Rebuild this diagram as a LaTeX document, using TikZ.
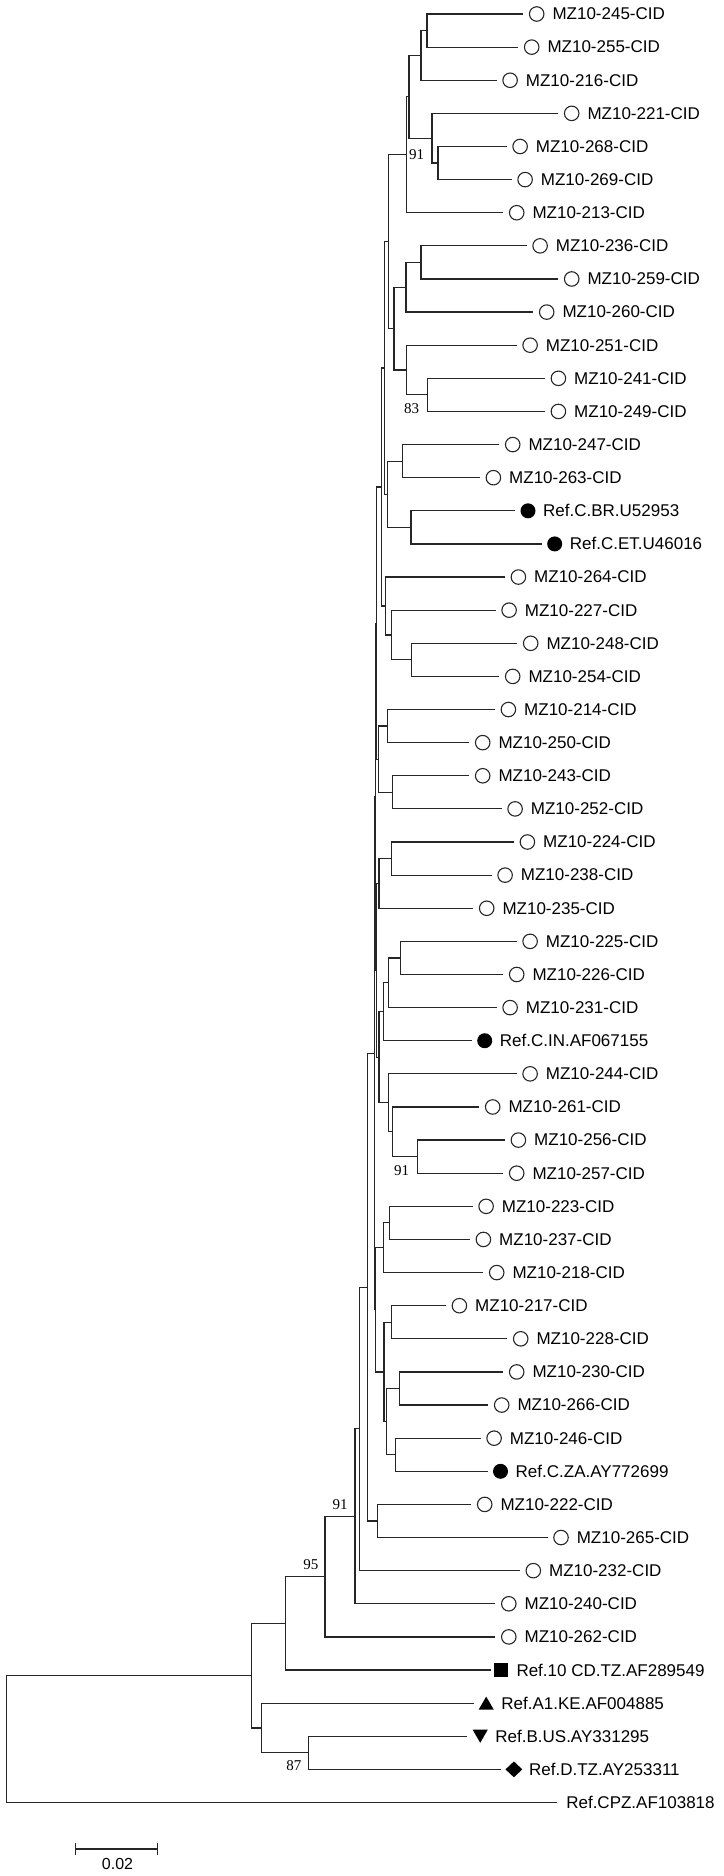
\documentclass[tikz,border=0pt]{standalone}
\usepackage{fontspec}
\setmainfont{Liberation Sans}
\newfontfamily\bsfont{Liberation Serif}
\usetikzlibrary{arrows.meta,calc,shapes.geometric}

\begin{document}
\begin{tikzpicture}[
  x=1pt, y=-1pt,
  br/.style={draw=black!85, line width=1.2pt},
  lab/.style={anchor=west, inner sep=0pt, font=\fontsize{17}{20}\selectfont},
  boot/.style={inner sep=0pt, font=\bsfont\fontsize{15}{18}\selectfont},
  ocirc/.style={circle, draw=black!85, line width=1.1pt, minimum size=14.5pt, inner sep=0pt},
  fcirc/.style={circle, fill=black, minimum size=15pt, inner sep=0pt},
  sqmark/.style={rectangle, fill=black, minimum size=14pt, inner sep=0pt},
  trimark/.style={regular polygon, regular polygon sides=3, fill=black, minimum size=17.5pt, inner sep=0pt},
  upmark/.style={trimark, yshift=-2.2pt},
  dnmark/.style={trimark, shape border rotate=180, yshift=2.2pt},
  dimark/.style={diamond, fill=black, minimum width=17pt, minimum height=16pt, inner sep=0pt}]
\useasboundingbox (0,0) rectangle (723,1876);
% leaves
\foreach \n/\x/\k in {245/523.3/1, 255/518.3/2, 216/496.7/3, 221/558.3/4, 268/506.7/5,
  269/511.7/6, 213/503.3/7, 236/526.7/8, 259/558.3/9, 260/533.3/10, 251/516.7/11,
  241/545/12, 249/545/13, 247/499.3/14, 263/480/15, 264/505/18, 227/495.7/19,
  248/517.3/20, 254/499.3/21, 214/495/22, 250/469.3/23, 243/469.3/24, 252/501.7/25,
  224/514/26, 238/491.7/27, 235/473.3/28, 225/516.7/29, 226/503.3/30, 231/496.7/31,
  244/516.7/33, 261/479.3/34, 256/505/35, 257/503.3/36, 223/472.7/37, 237/470/38,
  218/483.3/39, 217/446/40, 228/507.3/41, 230/503.3/42, 266/488.3/43, 246/480.7/44,
  222/471.3/46, 265/547.6/47, 232/519.9/48, 240/495.4/49, 262/495.4/50}{
  \coordinate (t\n) at (\x,{14+(\k-1)*33.12});
  \node[ocirc] (s\n) at ([xshift=13.4pt]t\n) {};
  \node[lab] (l\n) at ([xshift=29pt]t\n) {MZ10-\n-CID};
}
\foreach \n/\x/\k/\m/\d/\t in {crbr/515/16/fcirc/13/Ref.C.BR.U52953,
  cret/541.7/17/fcirc/13/Ref.C.ET.U46016,
  cin/471.7/32/fcirc/13/Ref.C.IN.AF067155,
  cza/487.5/45/fcirc/13/Ref.C.ZA.AY772699,
  r10/490.8/51/sqmark/10.5/Ref.10 CD.TZ.AF289549,
  ra1/473.7/52/upmark/12.5/Ref.A1.KE.AF004885,
  rb/466.7/53/dnmark/13.5/Ref.B.US.AY331295,
  rd/501.4/54/dimark/12.5/Ref.D.TZ.AY253311}{
  \coordinate (t\n) at (\x,{14+(\k-1)*33.12});
  \node[\m] (s\n) at ([xshift=\d pt]t\n) {};
  \node[lab] (l\n) at ([xshift=\d pt+15pt]t\n) {\t};
}
\coordinate (tcpz) at (556.9,{14+54*33.12});
\node[lab] (lcpz) at ([xshift=9.2pt]tcpz) {Ref.CPZ.AF103818};
% clades
\foreach \p/\x/\a/\b in {c1/427/t245/t255, c2/421/c1/t216, c3/438/t268/t269,
  c4/432/t221/c3, c5/409/c2/c4, c6/406.7/c5/t213, c7/421/t236/t259, c8/406/c7/t260,
  c9/427.3/t241/t249, c10/406.7/t251/c9, c11/394/c8/c10, c12/388.3/c6/c11,
  c13/402.3/t247/t263, c14/411/tcrbr/tcret, c15/387.3/c13/c14, c16/384.3/c12/c15,
  c17/411.7/t248/t254, c18/391.7/t227/c17, c19/385.7/t264/c18, c20/381.7/c16/c19,
  c21/387.3/t214/t250, c22/392.7/t243/t252, c23/378.3/c21/c22, c24/376.5/c20/c23,
  c25/391.7/t224/t238, c26/379/c25/t235, c27/400.3/t225/t226, c28/388.3/c27/t231,
  c29/383.3/c28/tcin, c30/417.3/t256/t257, c31/392.7/t261/c30, c32/388.3/t244/c31,
  c33/379/c29/c32, c34/376.8/c26/c33, c35/375.8/c24/c34, c36/389.3/t223/t237,
  c37/383.3/c36/t218, c38/391.7/t217/t228, c39/399.3/t230/t266, c40/395.7/t246/tcza,
  c41/386.7/c39/c40, c42/384/c38/c41, c43/375.3/c37/c42, c44/374.8/c35/c43,
  c45/377.7/t222/t265, c46/367.7/c44/c45, c47/359.3/c46/t232, c48/355/c47/t240,
  c49/325/c48/t262, c50/285.7/c49/tr10, c51/308.3/trb/trd, c52/261.7/tra1/c51,
  c53/251.7/c50/c52, c54/6.7/c53/tcpz}{
  \path ($(\a)!.5!(\b)$) coordinate (\p mid);
  \coordinate (\p) at (\x,0 |- \p mid);
  \draw[br] (\a) -| (\p) |- (\b);
}
% bootstrap values
\node[boot] (bs1) at (416.7,155) {91};
\node[boot] (bs2) at (411.7,409) {83};
\node[boot] (bs3) at (401.7,1170.7) {91};
\node[boot] (bs4) at (340,1505) {91};
\node[boot] (bs5) at (310.8,1564.3) {95};
\node[boot] (bs6) at (293.8,1766) {87};
% scale bar
\coordinate (sbl) at (75,1849);
\coordinate (sbr) at (158.3,1849);
\draw[br, line width=1.1pt, {Bar[width=12.3pt]}-{Bar[width=12.3pt]}] (sbl) -- (sbr);
\node[lab, anchor=center, font=\fontsize{16}{18}\selectfont] (sblab) at (117.5,1864) {0.02};
\end{tikzpicture}
\end{document}
